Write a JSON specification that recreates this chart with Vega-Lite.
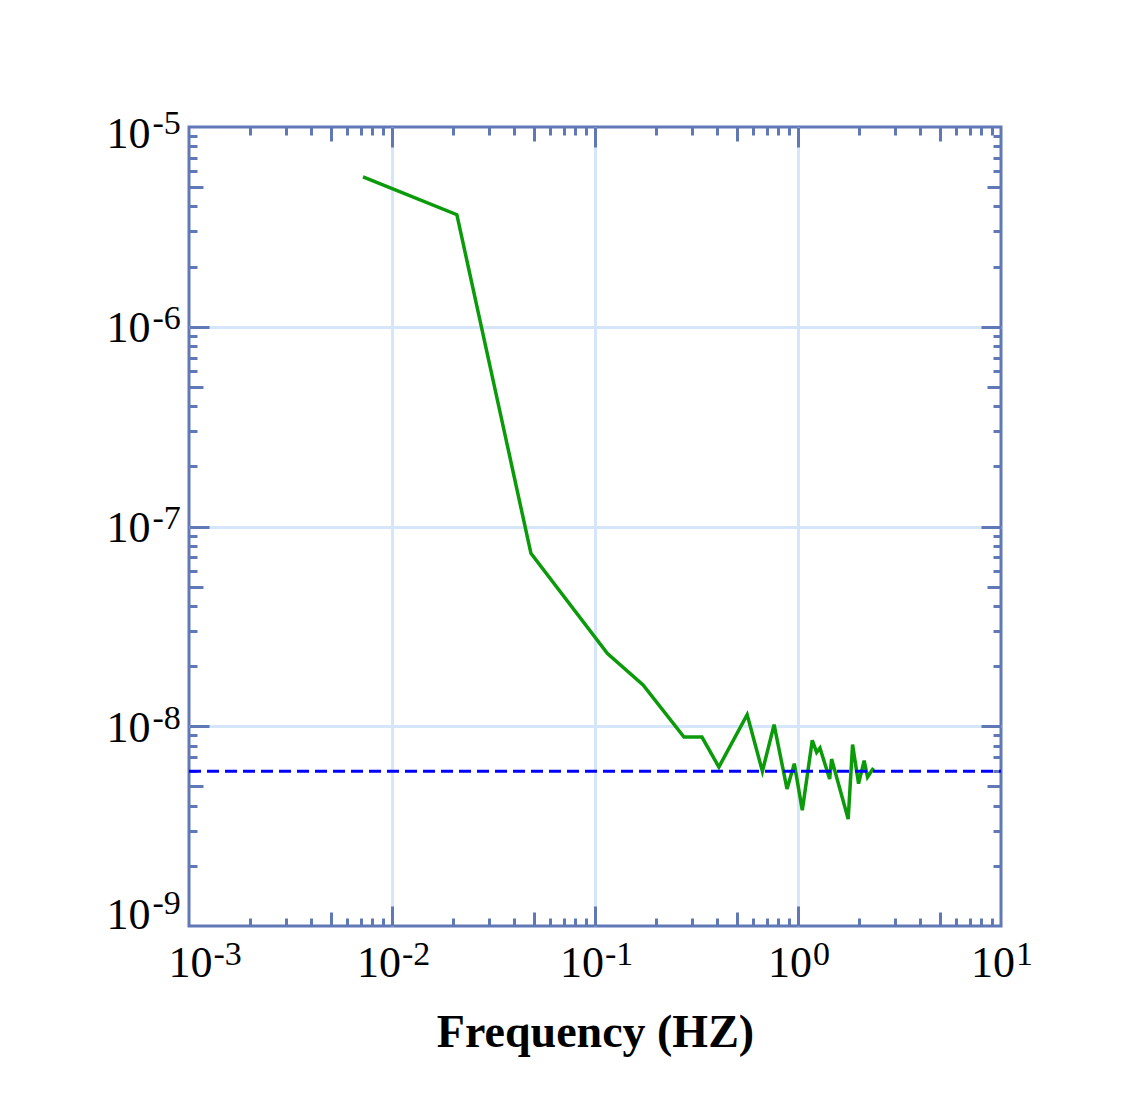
{
  "$schema": "https://vega.github.io/schema/vega-lite/v6.json",
  "width": 812,
  "height": 799,
  "autosize": {"type": "none"},
  "padding": {"left": 189, "top": 127, "right": 123, "bottom": 185},
  "background": "white",
  "config": {
    "view": {"stroke": "#6079b6", "strokeWidth": 3},
    "axis": {
      "domain": false,
      "labelFont": "Liberation Serif",
      "labelFontSize": 44,
      "labelColor": "black",
      "titleFont": "Liberation Serif",
      "titleFontSize": 46,
      "titleFontWeight": "bold",
      "titleColor": "black",
      "tickColor": "#6079b6",
      "tickWidth": 3,
      "gridColor": "#d5e5fa",
      "gridWidth": 3,
      "labelFlush": false,
      "labelOverlap": false,
      "labelBound": false
    }
  },
  "datasets": {
    "psd": [
      {"f": 0.00720, "p": 5.62e-6},
      {"f": 0.02087, "p": 3.64e-6},
      {"f": 0.04835, "p": 7.34e-8},
      {"f": 0.1152, "p": 2.31e-8},
      {"f": 0.1725, "p": 1.61e-8},
      {"f": 0.2744, "p": 8.83e-9},
      {"f": 0.3364, "p": 8.83e-9},
      {"f": 0.4076, "p": 6.25e-9},
      {"f": 0.5616, "p": 1.143e-8},
      {"f": 0.6678, "p": 5.95e-9},
      {"f": 0.7625, "p": 1.018e-8},
      {"f": 0.8828, "p": 4.85e-9},
      {"f": 0.9589, "p": 6.50e-9},
      {"f": 1.0498, "p": 3.80e-9},
      {"f": 1.176, "p": 8.50e-9},
      {"f": 1.236, "p": 7.40e-9},
      {"f": 1.283, "p": 7.78e-9},
      {"f": 1.432, "p": 5.44e-9},
      {"f": 1.464, "p": 6.85e-9},
      {"f": 1.767, "p": 3.43e-9},
      {"f": 1.857, "p": 8.09e-9},
      {"f": 1.988, "p": 5.16e-9},
      {"f": 2.118, "p": 6.73e-9},
      {"f": 2.201, "p": 5.57e-9},
      {"f": 2.355, "p": 6.18e-9}
    ],
    "level": [
      {"f": 0.001, "p": 5.95e-9},
      {"f": 10, "p": 5.95e-9}
    ]
  },
  "resolve": {"axis": {"x": "independent", "y": "independent"}},
  "layer": [
    {
      "data": {"name": "psd"},
      "mark": {"type": "line", "color": "#0a9a0a", "strokeWidth": 3.5, "clip": true},
      "encoding": {
        "x": {
          "field": "f", "type": "quantitative",
          "scale": {"type": "log", "domain": [0.001, 10], "nice": false},
          "axis": {
            "orient": "bottom",
            "title": null,
            "labels": false,
            "values": [0.002,0.003,0.004,0.005,0.006,0.007,0.008,0.009,0.01,0.02,0.03,0.04,0.05,0.06,0.07,0.08,0.09,0.1,0.2,0.3,0.4,0.5,0.6,0.7,0.8,0.9,1,2,3,4,5,6,7,8,9],
            "tickSize": {"condition": [
              {"test": "abs(log(datum.value)/LN10 - round(log(datum.value)/LN10)) < 0.01", "value": -20},
              {"test": "abs(log(datum.value/5)/LN10 - round(log(datum.value/5)/LN10)) < 0.01", "value": -14}
            ], "value": -8},
            "grid": true,
            "gridOpacity": {"condition": {"test": "abs(log(datum.value)/LN10 - round(log(datum.value)/LN10)) < 0.01", "value": 1}, "value": 0}
          }
        },
        "y": {
          "field": "p", "type": "quantitative",
          "scale": {"type": "log", "domain": [1e-9, 1e-5], "nice": false},
          "axis": {
            "orient": "left",
            "title": null,
            "labels": false,
            "values": [2e-9,3e-9,4e-9,5e-9,6e-9,7e-9,8e-9,9e-9,1e-8,2e-8,3e-8,4e-8,5e-8,6e-8,7e-8,8e-8,9e-8,1e-7,2e-7,3e-7,4e-7,5e-7,6e-7,7e-7,8e-7,9e-7,1e-6,2e-6,3e-6,4e-6,5e-6,6e-6,7e-6,8e-6,9e-6],
            "tickSize": {"condition": [
              {"test": "abs(log(datum.value)/LN10 - round(log(datum.value)/LN10)) < 0.01", "value": -20},
              {"test": "abs(log(datum.value/5)/LN10 - round(log(datum.value/5)/LN10)) < 0.01", "value": -14}
            ], "value": -8},
            "grid": true,
            "gridOpacity": {"condition": {"test": "abs(log(datum.value)/LN10 - round(log(datum.value)/LN10)) < 0.01", "value": 1}, "value": 0}
          }
        }
      }
    },
    {
      "data": {"name": "level"},
      "mark": {"type": "line", "color": "#0000ff", "strokeWidth": 3, "strokeDash": [12, 6]},
      "encoding": {
        "x": {
          "field": "f", "type": "quantitative",
          "scale": {"type": "log", "domain": [0.001, 10], "nice": false},
          "axis": {
            "orient": "top",
            "title": null,
            "labels": false,
            "grid": false,
            "values": [0.002,0.003,0.004,0.005,0.006,0.007,0.008,0.009,0.01,0.02,0.03,0.04,0.05,0.06,0.07,0.08,0.09,0.1,0.2,0.3,0.4,0.5,0.6,0.7,0.8,0.9,1,2,3,4,5,6,7,8,9],
            "tickSize": {"condition": [
              {"test": "abs(log(datum.value)/LN10 - round(log(datum.value)/LN10)) < 0.01", "value": -20},
              {"test": "abs(log(datum.value/5)/LN10 - round(log(datum.value/5)/LN10)) < 0.01", "value": -14}
            ], "value": -8}
          }
        },
        "y": {
          "field": "p", "type": "quantitative",
          "scale": {"type": "log", "domain": [1e-9, 1e-5], "nice": false},
          "axis": {
            "orient": "right",
            "title": null,
            "labels": false,
            "grid": false,
            "values": [2e-9,3e-9,4e-9,5e-9,6e-9,7e-9,8e-9,9e-9,1e-8,2e-8,3e-8,4e-8,5e-8,6e-8,7e-8,8e-8,9e-8,1e-7,2e-7,3e-7,4e-7,5e-7,6e-7,7e-7,8e-7,9e-7,1e-6,2e-6,3e-6,4e-6,5e-6,6e-6,7e-6,8e-6,9e-6],
            "tickSize": {"condition": [
              {"test": "abs(log(datum.value)/LN10 - round(log(datum.value)/LN10)) < 0.01", "value": -20},
              {"test": "abs(log(datum.value/5)/LN10 - round(log(datum.value/5)/LN10)) < 0.01", "value": -14}
            ], "value": -8}
          }
        }
      }
    },
    {
      "data": {"name": "psd"},
      "mark": {"type": "line", "strokeOpacity": 0},
      "encoding": {
        "x": {
          "field": "f", "type": "quantitative",
          "scale": {"type": "log", "domain": [0.001, 10], "nice": false},
          "axis": {
            "orient": "bottom",
            "title": "Frequency (HZ)",
            "titlePadding": 25,
            "ticks": false,
            "grid": false,
            "values": [0.001, 0.01, 0.1, 1, 10],
            "labelExpr": "'10'",
            "labelAlign": "center",
            "labelBaseline": "alphabetic",
            "labelPadding": 50,
            "labelOffset": {"condition": [
              {"test": "datum.value < 0.002", "value": 1},
              {"test": "datum.value > 0.5", "value": -8.5}
            ], "value": -13.5}
          }
        },
        "y": {
          "field": "p", "type": "quantitative",
          "scale": {"type": "log", "domain": [1e-9, 1e-5], "nice": false},
          "axis": {
            "orient": "left",
            "title": null,
            "ticks": false,
            "grid": false,
            "values": [1e-9, 1e-8, 1e-7, 1e-6, 1e-5],
            "labelExpr": "'10'",
            "labelAlign": "right",
            "labelBaseline": "alphabetic",
            "labelPadding": 39,
            "labelOffset": {"condition": [
              {"test": "datum.value < 2e-9", "value": 2},
              {"test": "datum.value > 5e-6", "value": 20}
            ], "value": 15}
          }
        }
      }
    },
    {
      "data": {"name": "psd"},
      "mark": {"type": "line", "strokeOpacity": 0},
      "encoding": {
        "x": {
          "field": "f", "type": "quantitative",
          "scale": {"type": "log", "domain": [0.001, 10], "nice": false},
          "axis": {
            "orient": "bottom",
            "title": null,
            "ticks": false,
            "grid": false,
            "values": [0.001, 0.01, 0.1, 1, 10],
            "labelExpr": "(round(log(datum.value)/LN10) < 0 ? '-' : '') + abs(round(log(datum.value)/LN10))",
            "labelFontSize": 34,
            "labelAlign": "left",
            "labelBaseline": "alphabetic",
            "labelPadding": 38,
            "labelOffset": {"condition": [
              {"test": "datum.value < 0.002", "value": 24},
              {"test": "datum.value > 0.5", "value": 14.5}
            ], "value": 9.5}
          }
        },
        "y": {
          "field": "p", "type": "quantitative",
          "scale": {"type": "log", "domain": [1e-9, 1e-5], "nice": false},
          "axis": {
            "orient": "left",
            "title": null,
            "ticks": false,
            "grid": false,
            "values": [1e-9, 1e-8, 1e-7, 1e-6, 1e-5],
            "labelExpr": "(round(log(datum.value)/LN10) < 0 ? '-' : '') + abs(round(log(datum.value)/LN10))",
            "labelFontSize": 34,
            "labelAlign": "left",
            "labelBaseline": "alphabetic",
            "labelPadding": 37,
            "labelOffset": {"condition": [
              {"test": "datum.value < 2e-9", "value": -13},
              {"test": "datum.value > 5e-6", "value": 6}
            ], "value": 2}
          }
        }
      }
    }
  ]
}
